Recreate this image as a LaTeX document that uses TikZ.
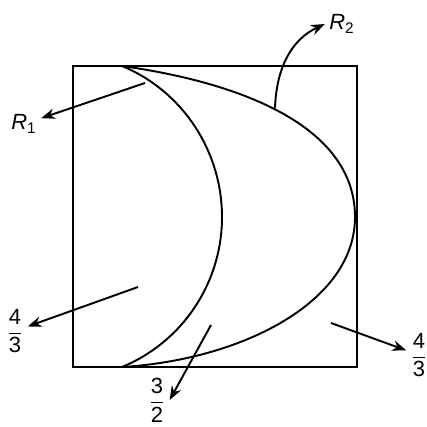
\documentclass[tikz,border=0pt]{standalone}
\usepackage{amsmath}
\usepackage{fontspec}
\setmainfont{Liberation Sans}
\usetikzlibrary{arrows.meta}

\newcommand{\regfrac}[2]{$\dfrac{\text{#1}}{\text{#2}}$}

\begin{document}
\begin{tikzpicture}[x=0.02cm, y=-0.02cm, >=Stealth, line width=1.1pt,
    every node/.style={font=\fontsize{12.5}{15}\selectfont, inner sep=2pt}]
  \useasboundingbox (0,0) rectangle (427,427);
  % the square
  \draw (73,66) rectangle (357,367);
  % the two points where both curves meet
  \coordinate (top) at (122,66);
  \coordinate (bot) at (122,367);
  % inner arc and outer curve
  \draw (top) .. controls (182.5,91) and (222,151) .. (222,217)
              .. controls (222,283) and (182.5,342) .. (bot);
  \draw (top) .. controls (250,84) and (355,130) .. (355,217)
              .. controls (355,303) and (240,360) .. (bot);
  % labels
  \node (rone) at (24,124) {\textit{R}\textsubscript{1}};
  \node (rtwo) at (342,24) {\textit{R}\textsubscript{2}};
  \node (fleft) at (15,331) {\regfrac{4}{3}};
  \node (fbot) at (157,400) {\regfrac{3}{2}};
  \node (fright) at (419,355) {\regfrac{4}{3}};
  % pointers
  \coordinate (ronefoot) at (145,83);
  \coordinate (rtwofoot) at (275,108);
  \coordinate (leftfoot) at (138,287);
  \coordinate (botfoot) at (211,325);
  \coordinate (rightfoot) at (331,323);
  \draw[->] (ronefoot) -- (rone);
  \draw[->] (rtwofoot) to[out=88, in=205] (rtwo.west);
  \draw[->] (leftfoot) -- (fleft);
  \draw[->] (botfoot) -- (fbot.east);
  \draw[->] (rightfoot) -- (fright);
\end{tikzpicture}
\end{document}
